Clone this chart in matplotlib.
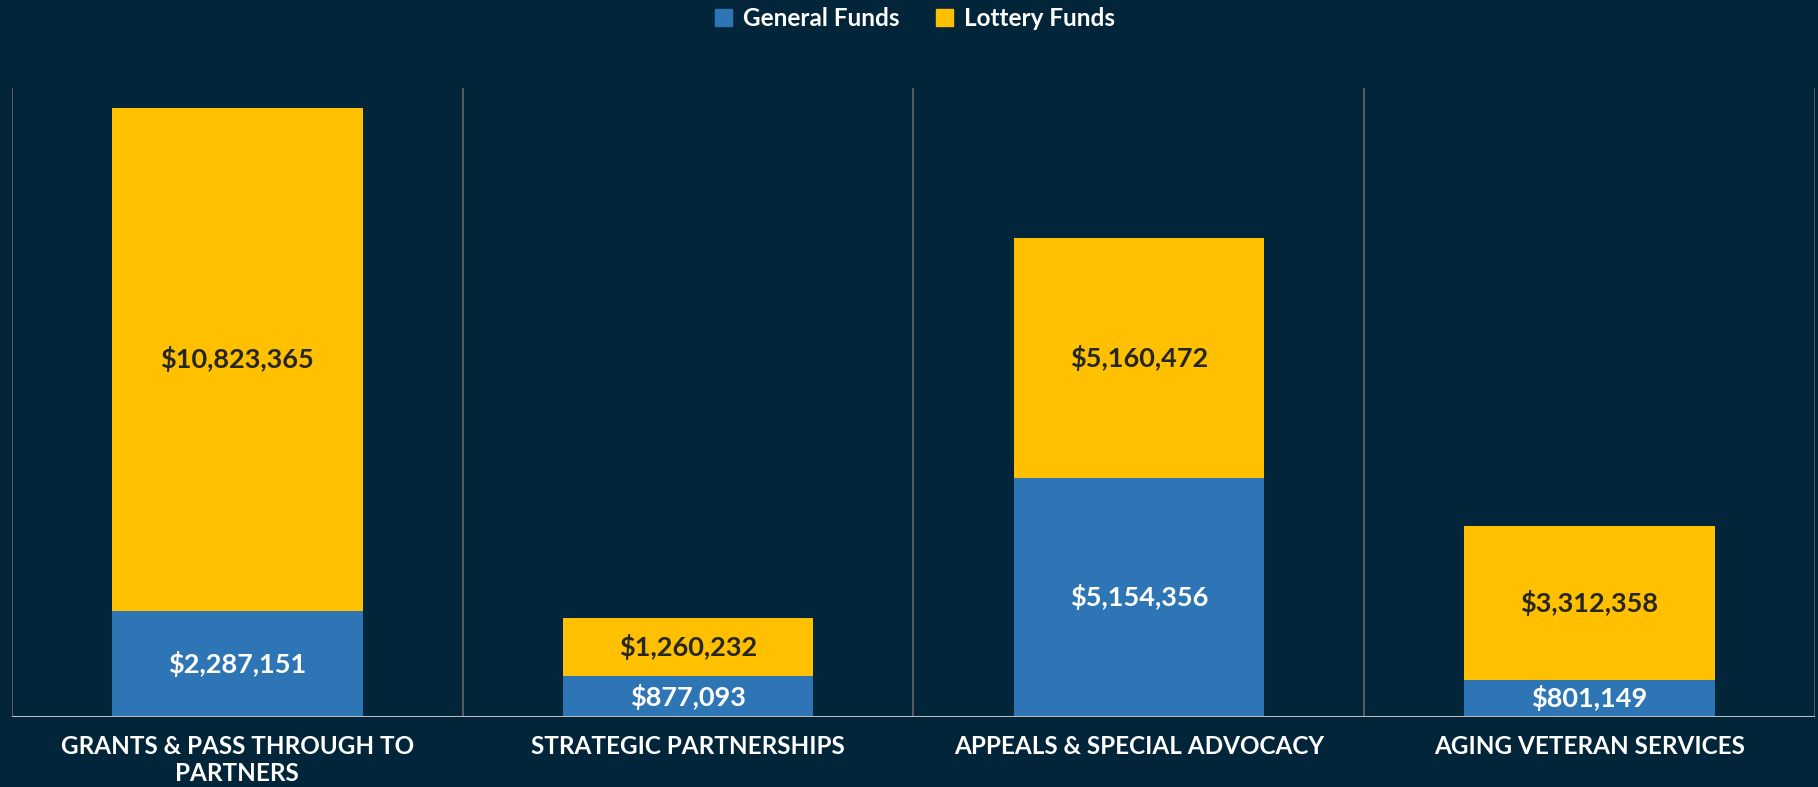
import matplotlib.pyplot as plt
import numpy as np
from matplotlib.patches import Patch

# data
categories = ['GRANTS & PASS THROUGH TO\nPARTNERS', 'STRATEGIC PARTNERSHIPS',
              'APPEALS & SPECIAL ADVOCACY', 'AGING VETERAN SERVICES']
general_funds = [2287151, 877093, 5154356, 801149]
lottery_funds = [10823365, 1260232, 5160472, 3312358]

bg = '#03253A'
blue = '#2E75B6'
yellow = '#FFC000'

plt.rcParams['font.family'] = ['Lato', 'DejaVu Sans']

fig = plt.figure(figsize=(18.18, 7.87), dpi=100, facecolor=bg)
ax = fig.add_axes([0.0066, 0.0889, 0.9917, 0.7993])
ax.set_facecolor(bg)

x = np.arange(len(categories))
gen = np.array(general_funds)
lot = np.array(lottery_funds)

ax.bar(x, gen, width=0.556, color=blue, zorder=2)
ax.bar(x, lot, width=0.556, bottom=gen, color=yellow, zorder=2)

# value labels in the middle of each segment
for i in range(len(x)):
    ax.text(x[i], gen[i] / 2, '${:,}'.format(gen[i]), ha='center', va='center',
            color='white', fontsize=19.5, fontweight='bold', zorder=3)
    ax.text(x[i], gen[i] + lot[i] / 2, '${:,}'.format(lot[i]), ha='center', va='center',
            color='#262626', fontsize=19.5, fontweight='bold', zorder=3)

ax.set_xlim(-0.5, 3.5)
ax.set_ylim(0, (gen[0] + lot[0]) * 629 / 609)

# category dividers
for b in np.arange(-0.5, 4.0, 1.0):
    ax.axvline(b, color='#5f5f5f', lw=1.3, zorder=1)
ax.axhline(0, color='#bfbfbf', lw=2.2, zorder=4)

for s in ax.spines.values():
    s.set_visible(False)
ax.set_yticks([])
ax.set_xticks(x)
ax.set_xticklabels(categories, color='white', fontsize=17.5, fontweight='bold',
                   linespacing=1.2)
ax.tick_params(axis='x', length=0, pad=13)

handles = [Patch(color=blue, label='General Funds'),
           Patch(color=yellow, label='Lottery Funds')]
fig.legend(handles=handles, loc='center', bbox_to_anchor=(0.5035, 0.977), ncol=2,
           frameon=False, handlelength=0.7, handleheight=0.7, handletextpad=0.45,
           columnspacing=1.5, prop={'size': 17.5, 'weight': 'bold'}, labelcolor='white')

fig.savefig('out.png', dpi=100, facecolor=bg)
